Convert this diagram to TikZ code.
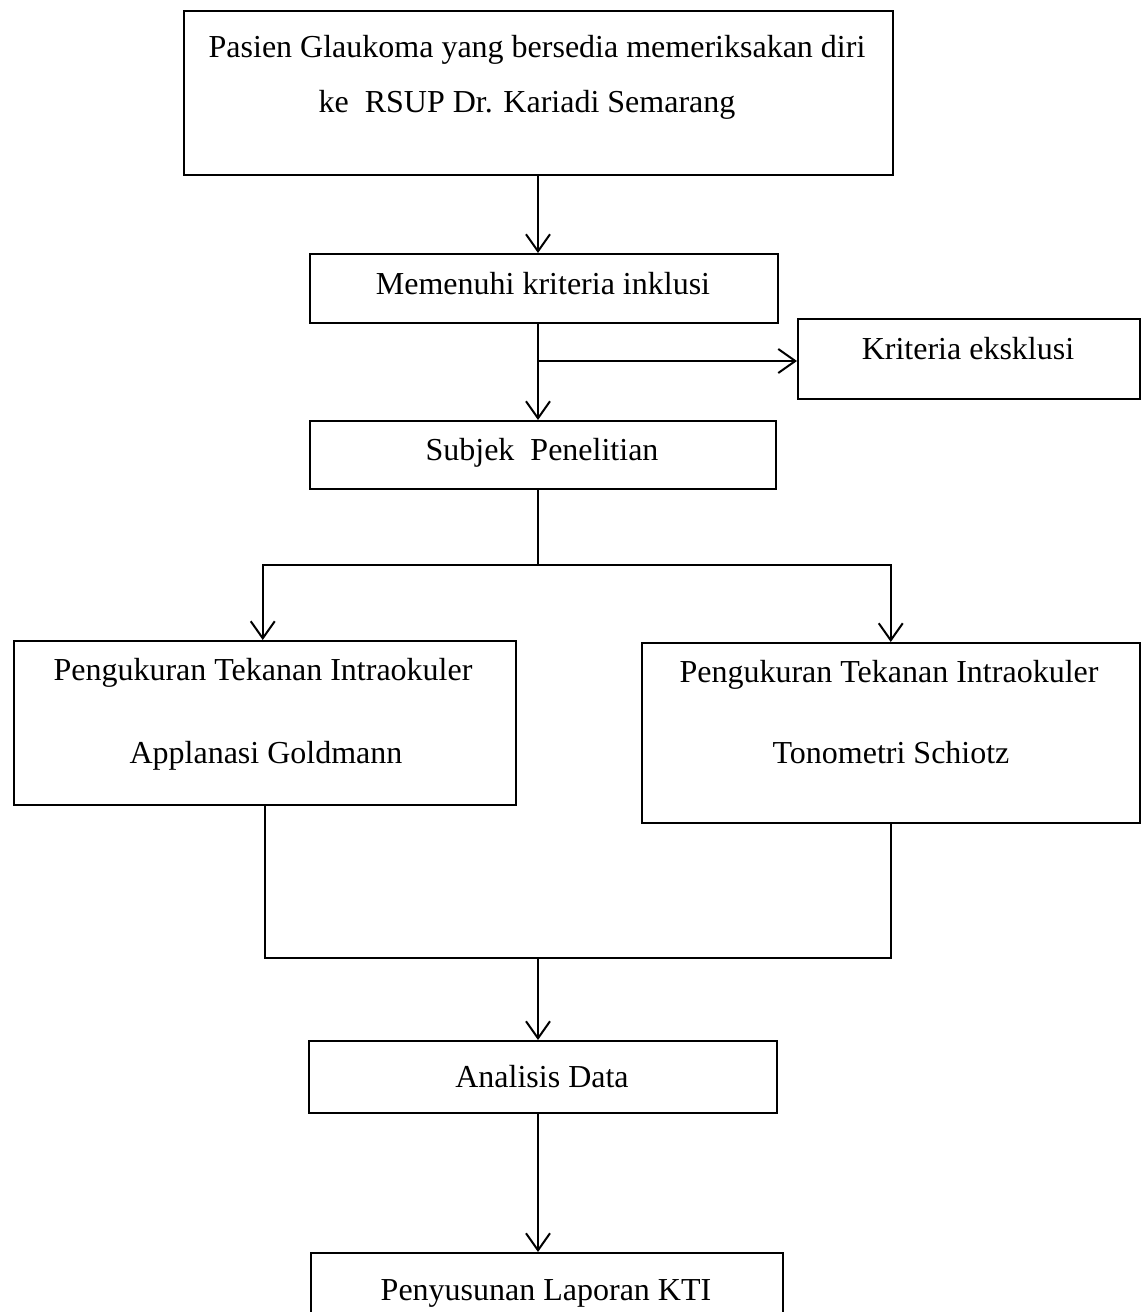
\documentclass[tikz,border=0pt]{standalone}
\usepackage{fontspec}
\setmainfont{Liberation Serif}
\usetikzlibrary{arrows.meta}
\begin{document}
\begin{tikzpicture}[x=1pt,y=-1pt,
  box/.style={draw=black, line width=1.5pt, fill=none, inner sep=0pt, anchor=north west},
  txt/.style={font=\fontsize{32}{38}\selectfont, inner sep=0pt, anchor=base},
  conn/.style={draw=black, line width=2pt},
  arr/.style={conn, -{Straight Barb[length=17pt,width=24pt,line width=2pt]}}]
\useasboundingbox (0,0) rectangle (1141,1312);
\clip (0,0) rectangle (1141,1312);
% boxes
\node[box, minimum width=709pt, minimum height=164pt] (b1) at (183,10) {};
\node[box, minimum width=468pt, minimum height=69pt] (b2) at (309,253) {};
\node[box, minimum width=342pt, minimum height=80pt] (b3) at (797,318) {};
\node[box, minimum width=466pt, minimum height=68pt] (b4) at (309,420) {};
\node[box, minimum width=502pt, minimum height=164pt] (b5) at (13,640) {};
\node[box, minimum width=498pt, minimum height=180pt] (b6) at (641,642) {};
\node[box, minimum width=468pt, minimum height=72pt] (b7) at (308,1040) {};
\node[box, minimum width=472pt, minimum height=120pt] (b8) at (310,1252) {};
% texts
\node[txt] (t1a) at (537,57) {Pasien Glaukoma yang bersedia memeriksakan diri};
\node[txt] (t1b) at (527,112) {ke\ \ RSUP Dr. Kariadi Semarang};
\node[txt] (t2) at (543,294) {Memenuhi kriteria inklusi};
\node[txt] (t3) at (968,359) {Kriteria eksklusi};
\node[txt] (t4) at (542,460) {Subjek\ \ Penelitian};
\node[txt] (t5a) at (263,680) {Pengukuran Tekanan Intraokuler};
\node[txt] (t5b) at (266,763) {Applanasi Goldmann};
\node[txt] (t6a) at (889,682) {Pengukuran Tekanan Intraokuler};
\node[txt] (t6b) at (891,763) {Tonometri Schiotz};
\node[txt] (t7) at (542,1087) {Analisis Data};
\node[txt] (t8) at (546,1300) {Penyusunan Laporan KTI};
% junction coordinates
\coordinate (j1) at (538,361);
\coordinate (j2) at (538,565);
\coordinate (j3) at (538,958);
% connectors
\draw[arr] (b1.south -| j1) -- (b2.north -| j1);
\draw[conn] (b2.south -| j1) -- (j1);
\draw[arr] (j1) -- (b4.north -| j1);
\draw[arr] (j1) -- (b3.west |- j1);
\draw[conn] (b4.south -| j2) -- (j2);
\draw[arr] (j2) -| ([xshift=-2pt]b5.north);
\draw[arr] (j2) -| (b6.north);
\draw[conn] (b5.south) |- (j3);
\draw[conn] (b6.south) |- (j3);
\draw[arr] (j3) -- (b7.north -| j3);
\draw[arr] (b7.south -| j3) -- (b8.north -| j3);
\end{tikzpicture}
\end{document}
